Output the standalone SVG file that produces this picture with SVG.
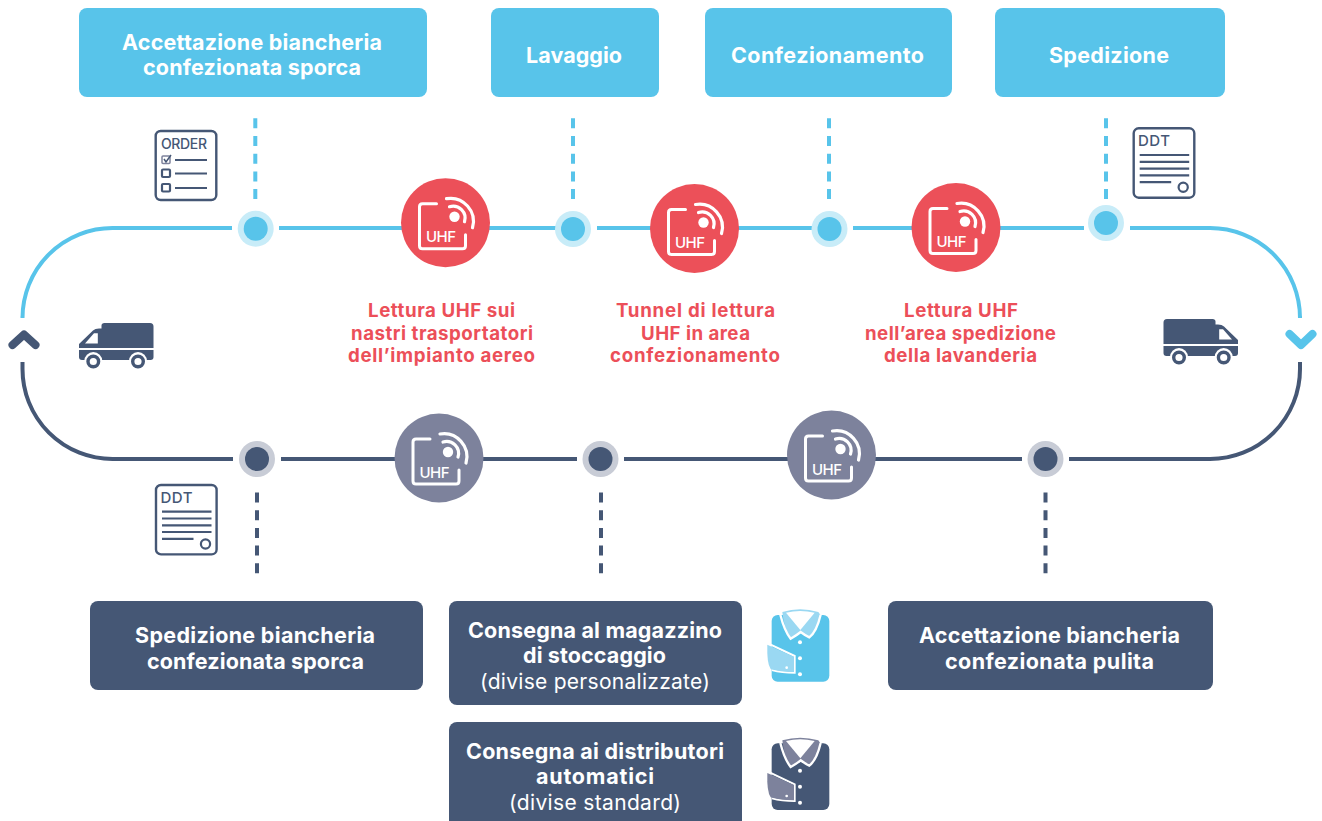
<svg xmlns="http://www.w3.org/2000/svg" width="1322" height="821" viewBox="0 0 1322 821">
<style>
text{font-family:Inter,"Liberation Sans",sans-serif}
.t{font-size:21.500px;font-weight:700;fill:#fff}
.r{font-size:21px;font-weight:400;fill:#fff}
.l{font-size:18.700px;font-weight:700;fill:#ec4f59}
.blue{fill:#58c4ea}.dark{fill:#455775}
.ln{fill:none;stroke-width:4}
.bl{stroke:#58c4ea}.dl{stroke:#455775}
.dash{fill:none;stroke-width:4;stroke-dasharray:10 7.7}
.chev{fill:none;stroke-width:8;stroke-linecap:round;stroke-linejoin:round}
.uhf{font-size:15px;font-weight:500;fill:#fff}
.doc{fill:#fff;stroke:#455775;stroke-width:2.400}
.docl{fill:none;stroke:#455775;stroke-width:2.200}
.doct{font-size:15px;font-weight:500;fill:#455775}
</style>
<defs>
<g id="icon" fill="none" stroke="#fff" stroke-width="3" stroke-linecap="round">
<path d="M-9 -19H-23Q-26 -19 -26 -16V23Q-26 26 -23 26H17Q20 26 20 23V12"/>
<circle cx="9" cy="-6" r="5.200" fill="#fff" stroke="none"/>
<path d="M4 -16A12 12 0 0 1 19 -1" stroke-width="3.200"/>
<path d="M1 -24A23 23 0 0 1 27 5" stroke-width="3.200"/>
</g>
<g id="doc">
<rect x="1" y="1" width="60.600" height="69.400" rx="5" class="doc"/>
<path class="docl" d="M7 27.700H56.500M7 34.500H56.500M7 41.300H56.500M7 48H56.500M7 54.800H38.500"/>
<circle cx="50.500" cy="60" r="4.600" class="docl"/>
</g>
<g id="truck">
<path class="dark" d="M22.500 2.500Q22.500 0 25.500 0H71Q74.500 0 74.500 3.500V25H0V21L14 7.500Q16 5.500 20 5.500H22.500Z"/>
<path fill="#fff" d="M6 20.500L15 10.200H18.800V20.500Z"/>
<path class="dark" d="M0 27H74.500V34Q74.500 37 71.500 37H3Q0 37 0 34Z"/>
<circle cx="14.300" cy="38" r="9" fill="#fff"/><circle cx="14.300" cy="38.500" r="5.300" fill="#fff" stroke="#455775" stroke-width="3.400"/>
<circle cx="59" cy="38" r="9" fill="#fff"/><circle cx="59" cy="38.500" r="5.300" fill="#fff" stroke="#455775" stroke-width="3.400"/>
</g>
<g id="neck">
<path d="M97 36Q150 20 205 36L212 46Q200 95 178 110Q165 105 152 95Q140 105 122 114Q103 90 97 36Z"/>
<path d="M91 44Q103 92 122 116Q140 106 152 96Q165 106 178 112Q200 95 212 44" fill="none" stroke="#fff" stroke-width="7"/>
<path d="M108 38Q150 28 194 38L151 90Z" fill="#fff"/>
</g>
<g id="dots" fill="#fff"><circle cx="150" cy="127" r="6"/><circle cx="150" cy="175" r="6"/><circle cx="150" cy="223" r="6"/><circle cx="110" cy="203" r="4"/></g>
<path id="sleeve" d="M52 134L132 170V216Q90 216 62 207Q50 190 52 134Z"/>
<path id="sleeve-edge" d="M54 130L134 168V218Q95 218 66 210" fill="none" stroke="#fff" stroke-width="6"/>
</defs>

<g id="connectors">
<path class="ln bl" d="M22.500 316V318A90 90 0 0 1 112.500 228H232M279 228H556M597 228H812M853 228H1084M1130 228H1210A90 90 0 0 1 1300 318V316"/>
<path class="ln dl" d="M22.500 362V369A90 90 0 0 0 112.500 459H233M281 459H577M624 459H1022M1069 459H1210A90 90 0 0 0 1300 369V362"/>
<path class="dash bl" d="M255.300 118.300V201M573 118.300V201M829 118.300V201M1106 118.300V201"/>
<path class="dash dl" d="M257 492.500V574M601 492.500V574M1045.500 492.500V574"/>
<path class="chev dl" d="M12.500 345L24 334.500L35.500 345"/>
<path class="chev bl" d="M1289.500 334L1301 345L1312.500 334"/>
</g>

<g id="box-accettazione-sporca"><rect class="blue" x="79" y="8" width="348" height="89" rx="8"/><text class="t" x="122" y="50" textLength="260">Accettazione biancheria</text><text class="t" x="143" y="75" textLength="218">confezionata sporca</text></g>
<g id="box-lavaggio"><rect class="blue" x="491" y="8" width="168" height="89" rx="8"/><text class="t" x="526" y="63" textLength="96">Lavaggio</text></g>
<g id="box-confezionamento"><rect class="blue" x="705" y="8" width="247" height="89" rx="8"/><text class="t" x="731" y="63" textLength="193">Confezionamento</text></g>
<g id="box-spedizione"><rect class="blue" x="995" y="8" width="230" height="89" rx="8"/><text class="t" x="1049" y="63" textLength="120">Spedizione</text></g>

<g id="doc-order"><rect x="155.700" y="131" width="60.600" height="69" rx="5" class="doc"/><text class="doct" x="161" y="148.500" style="font-size:14px" textLength="46">ORDER</text>
<rect x="162" y="156" width="8" height="7.500" rx="1" fill="none" stroke="#7d829c" stroke-width="1.500"/><path d="M164 159L166 162L171 155" fill="none" stroke="#455775" stroke-width="1.500"/>
<rect x="162" y="169.500" width="8" height="7.500" rx="1" class="docl"/><rect x="162" y="184" width="8" height="7.500" rx="1" class="docl"/>
<path class="docl" d="M175 160H207M175 173.500H207M175 188H207"/></g>
<g id="doc-ddt-top"><use href="#doc" x="1132.700" y="127.300"/><text class="doct" x="1138" y="146" textLength="32">DDT</text></g>
<g id="doc-ddt-bottom"><use href="#doc" x="155" y="484"/><text class="doct" x="160.500" y="503" textLength="32">DDT</text></g>

<g id="truck-left"><use href="#truck" transform="translate(79 323)"/></g>
<g id="truck-right"><use href="#truck" transform="translate(1238 319) scale(-1 1)"/></g>

<g id="node-b1"><circle cx="255.700" cy="228.700" r="18" fill="#c8ecf8"/><circle cx="255.700" cy="228.700" r="12" class="blue"/></g>
<g id="node-b2"><circle cx="573" cy="229" r="18" fill="#c8ecf8"/><circle cx="573" cy="229" r="12" class="blue"/></g>
<g id="node-b3"><circle cx="829.500" cy="229" r="18" fill="#c8ecf8"/><circle cx="829.500" cy="229" r="12" class="blue"/></g>
<g id="node-b4"><circle cx="1106" cy="223" r="18" fill="#c8ecf8"/><circle cx="1106" cy="223" r="12" class="blue"/></g>
<g id="node-d1"><circle cx="257" cy="459" r="18" fill="#c8ccd6"/><circle cx="257" cy="459" r="12" class="dark"/></g>
<g id="node-d2"><circle cx="600.500" cy="459" r="18" fill="#c8ccd6"/><circle cx="600.500" cy="459" r="12" class="dark"/></g>
<g id="node-d3"><circle cx="1045.500" cy="459" r="18" fill="#c8ccd6"/><circle cx="1045.500" cy="459" r="12" class="dark"/></g>

<g id="uhf-r1"><circle cx="445.500" cy="222.700" r="44.500" fill="#ec5059"/><use href="#icon" transform="translate(445.500 222.700)"/><text class="uhf" x="426" y="242" textLength="30">UHF</text></g>
<g id="uhf-r2"><circle cx="694.500" cy="228.500" r="44.500" fill="#ec5059"/><use href="#icon" transform="translate(694.500 228.500)"/><text class="uhf" x="675" y="248" textLength="30">UHF</text></g>
<g id="uhf-r3"><circle cx="956" cy="227.500" r="44.500" fill="#ec5059"/><use href="#icon" transform="translate(956 227.500)"/><text class="uhf" x="936.500" y="247" textLength="30">UHF</text></g>
<g id="uhf-g1"><circle cx="439" cy="458" r="44.500" fill="#7d829c"/><use href="#icon" transform="translate(439 458)"/><text class="uhf" x="419.500" y="477.500" textLength="30">UHF</text></g>
<g id="uhf-g2"><circle cx="831.500" cy="455" r="44.500" fill="#7d829c"/><use href="#icon" transform="translate(831.500 455)"/><text class="uhf" x="812" y="474.500" textLength="30">UHF</text></g>

<g id="label-1"><text class="l" x="368" y="316.500" textLength="147">Lettura UHF sui</text><text class="l" x="351" y="339.500" textLength="182">nastri trasportatori</text><text class="l" x="348" y="361.500" textLength="187">dell’impianto aereo</text></g>
<g id="label-2"><text class="l" x="616" y="316.500" textLength="159">Tunnel di lettura</text><text class="l" x="641" y="339.500" textLength="109">UHF in area</text><text class="l" x="610" y="361.500" textLength="170">confezionamento</text></g>
<g id="label-3"><text class="l" x="904" y="316.500" textLength="114">Lettura UHF</text><text class="l" x="865" y="339.500" textLength="191">nell’area spedizione</text><text class="l" x="884" y="361.500" textLength="153">della lavanderia</text></g>

<g id="box-spedizione-sporca"><rect class="dark" x="90" y="601" width="333" height="89" rx="8"/><text class="t" x="135" y="643" textLength="240">Spedizione biancheria</text><text class="t" x="147" y="669" textLength="217">confezionata sporca</text></g>
<g id="box-magazzino"><rect class="dark" x="449" y="601" width="293" height="104" rx="8"/><text class="t" x="468" y="638" textLength="254">Consegna al magazzino</text><text class="t" x="523" y="663" textLength="143">di stoccaggio</text><text class="r" x="480" y="689" textLength="230">(divise personalizzate)</text></g>
<g id="box-distributori"><rect class="dark" x="449" y="722" width="293" height="110" rx="8"/><text class="t" x="466" y="759" textLength="258">Consegna ai distributori</text><text class="t" x="536" y="784" textLength="118">automatici</text><text class="r" x="509" y="810" textLength="172">(divise standard)</text></g>
<g id="box-accettazione-pulita"><rect class="dark" x="888" y="601" width="325" height="89" rx="8"/><text class="t" x="919" y="643" textLength="261">Accettazione biancheria</text><text class="t" x="945" y="669" textLength="209">confezionata pulita</text></g>

<g id="shirt-blue" transform="translate(750 600) scale(.3333)">
<rect x="65" y="45" width="173" height="200" rx="18" fill="#58c4ea"/>
<use href="#sleeve-edge"/>
<use href="#sleeve" fill="#9ad8f2"/>
<use href="#neck" fill="#9ad8f2"/>
<use href="#dots"/>
</g>
<g id="shirt-dark" transform="translate(750 728.300) scale(.3333)">
<rect x="65" y="45" width="173" height="200" rx="18" fill="#455775"/>
<use href="#sleeve-edge"/>
<use href="#sleeve" fill="#7d829c"/>
<use href="#neck" fill="#7d829c"/>
<use href="#dots"/>
</g>
</svg>
